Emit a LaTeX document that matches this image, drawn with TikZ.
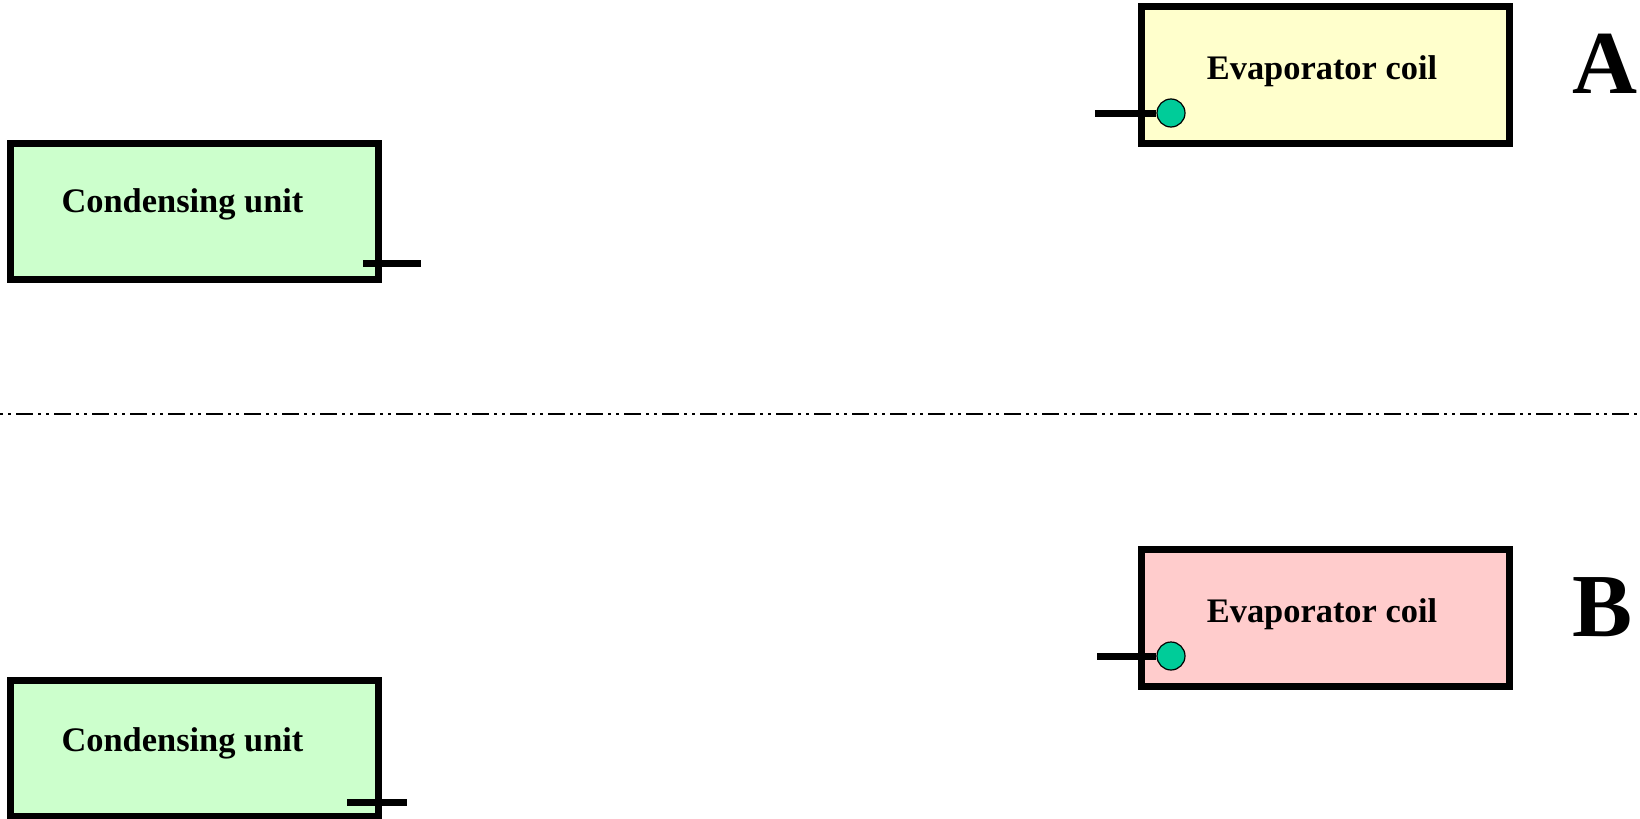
\documentclass[tikz,border=0pt]{standalone}
\usepackage{fontspec}
\setmainfont{Liberation Serif}
\definecolor{evapA}{HTML}{FFFFCC}
\definecolor{evapB}{HTML}{FFCCCC}
\definecolor{condfill}{HTML}{CCFFCC}
\definecolor{valve}{HTML}{00CC99}
\begin{document}
\begin{tikzpicture}[x=0.5pt,y=-0.5pt,
  unitbox/.style={draw=black,line width=3.5pt,minimum width=184pt,inner sep=0pt},
  lbl/.style={anchor=base,inner sep=0pt,font=\bfseries\fontsize{17.2}{20}\selectfont},
  big/.style={anchor=base,inner sep=0pt,font=\bfseries\fontsize{45}{50}\selectfont},
  valvedot/.style={circle,draw=black,line width=0.6pt,fill=valve,minimum size=14pt,inner sep=0pt},
  pipe/.style={line width=3.5pt},
  divider/.style={line width=1pt,dash pattern=on 8.5pt off 2.5pt on 1.5pt off 2.5pt on 1.5pt off 2.5pt,dash phase=11pt}]
\useasboundingbox (0,0) rectangle (1640,819);
% boxes
\node[unitbox,fill=condfill,minimum height=68pt] (condA) at (194.5,211.5) {};
\node[unitbox,fill=evapA,minimum height=68.5pt] (evapA) at (1325.5,75) {};
\node[unitbox,fill=evapB,minimum height=68.5pt] (evapB) at (1325.5,618) {};
\node[unitbox,fill=condfill,minimum height=68pt] (condB) at (194.5,748.5) {};
% labels
\node[lbl] (condAtxt) at (182.5,212) {Condensing unit};
\node[lbl] (evapAtxt) at (1322,79) {Evaporator coil};
\node[lbl] (evapBtxt) at (1322,622) {Evaporator coil};
\node[lbl] (condBtxt) at (182.5,751) {Condensing unit};
\node[big] (letA) at (1605,93) {A};
\node[big] (letB) at (1603,636) {B};
% stubs on condensing units
\coordinate (cAs) at (363,263);
\coordinate (cAe) at (421,263);
\draw[pipe] (cAs) -- (cAe);
\coordinate (cBs) at (347,802);
\coordinate (cBe) at (407,802);
\draw[pipe] (cBs) -- (cBe);
% valves on evaporators
\coordinate (pAs) at (1095,113);
\node[valvedot] (vA) at (1171,113) {};
\draw[pipe] (pAs) -- (vA.west);
\coordinate (pBs) at (1097,656);
\node[valvedot] (vB) at (1171,656) {};
\draw[pipe] (pBs) -- (vB.west);
% divider
\coordinate (dL) at (0,414);
\coordinate (dR) at (1640,414);
\draw[divider] (dL) -- (dR);
\end{tikzpicture}
\end{document}
